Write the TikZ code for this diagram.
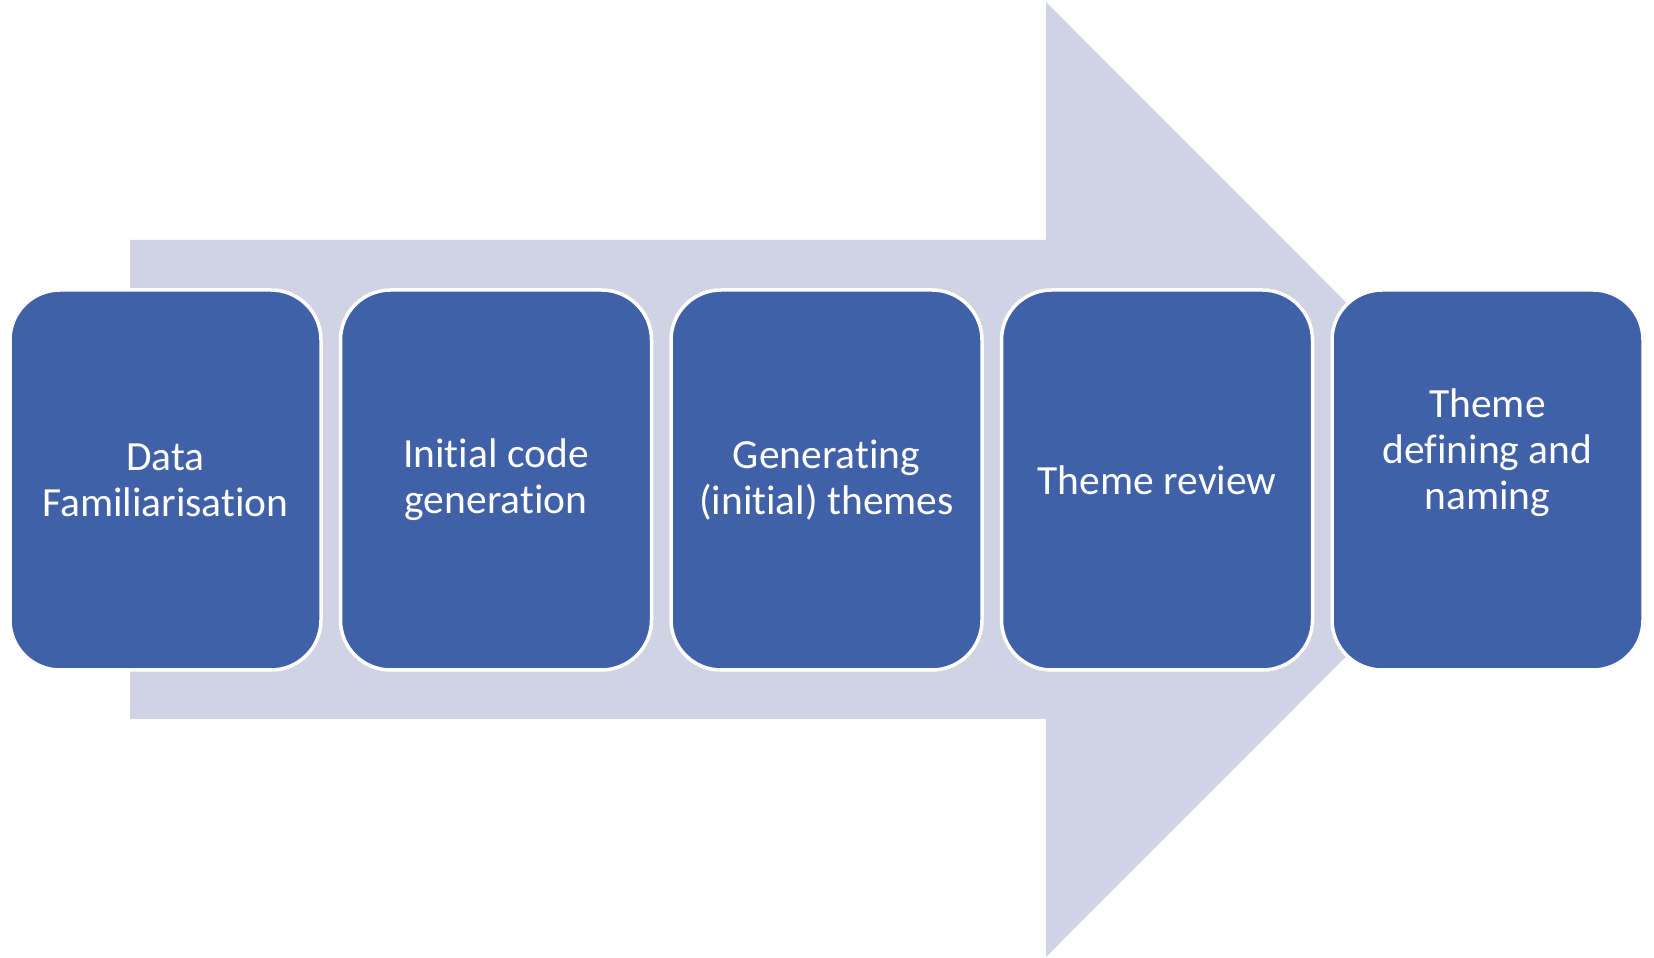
\documentclass[tikz,border=0pt]{standalone}
\usepackage{fontspec}
\setmainfont{Carlito}[Ligatures=NoCommon]
\definecolor{boxblue}{RGB}{64,96,168}
\definecolor{arrowgrey}{RGB}{208,211,227}
\tikzset{
  stepbox/.style={rectangle, rounded corners=50pt, fill=boxblue, draw=white, line width=3.5pt,
    minimum width=311pt, minimum height=380pt, inner sep=0pt},
  steptext/.style={text=white, align=center, font=\fontsize{41.5}{46}\selectfont, inner sep=0pt}
}
\begin{document}
\begin{tikzpicture}[x=1pt,y=1pt]
\useasboundingbox (0,0) rectangle (1654,958);
% big arrow
\coordinate (tip) at (1523,478.5);
\fill[arrowgrey] (130,718) -- (1046,718) -- (1046,956) -- (tip) -- (1046,1) -- (1046,239) -- (130,239) -- cycle;
% steps
\node[stepbox, steptext] (s1) at (165.5,478) {Data\\Familiarisation};
\node[stepbox, steptext] (s2) at (496,478) {Initial code\\generation};
\node[stepbox, steptext] (s3) at (826.5,478) {Generating\\(initial) themes};
\node[stepbox, steptext] (s4) at (1157,478) {Theme review};
\node[stepbox] (s5) at (1487.5,478) {};
\node[steptext] (t5) at ([yshift=27pt]s5.center) {Theme\\defining and\\naming};
\end{tikzpicture}
\end{document}
